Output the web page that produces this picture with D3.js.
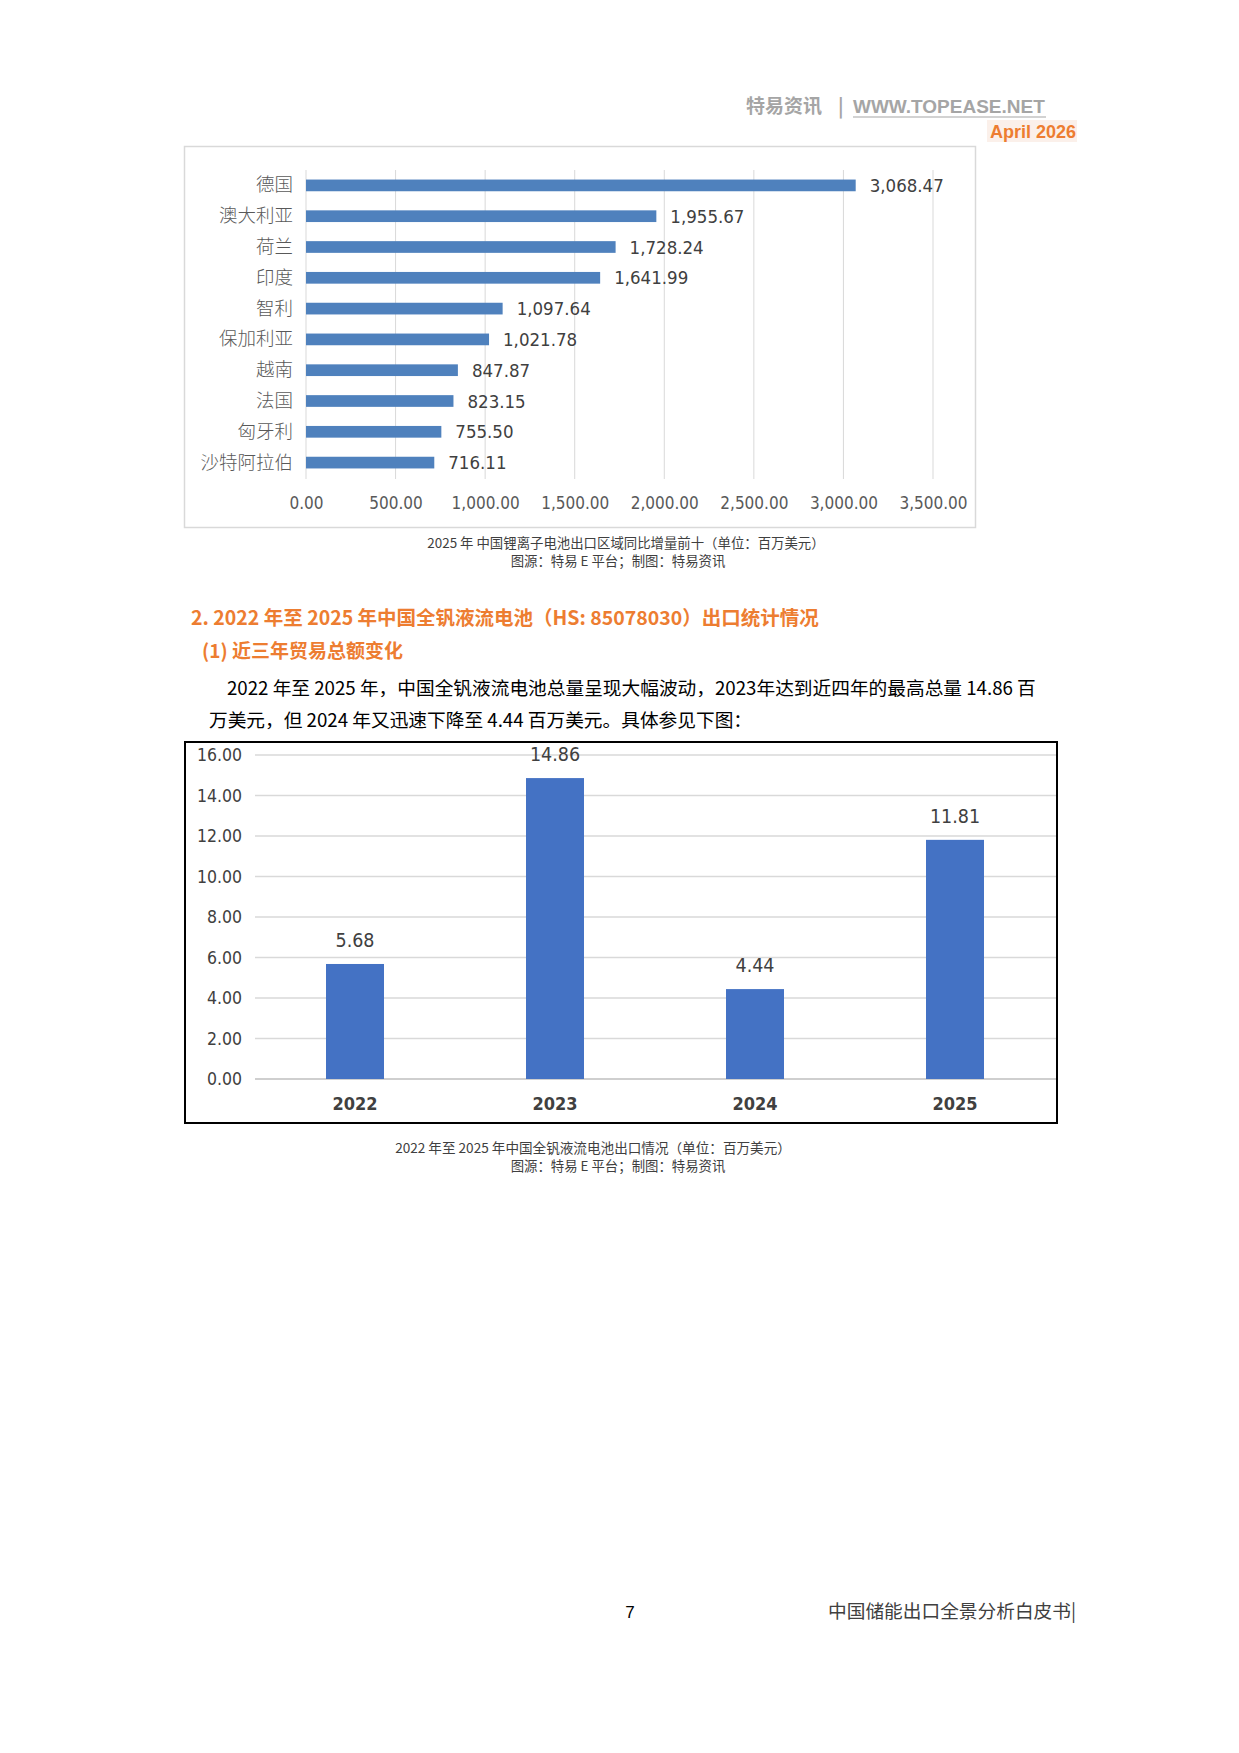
<!DOCTYPE html>
<html>
<head>
<meta charset="utf-8">
<script src="https://cdn.jsdelivr.net/npm/d3@7"></script>
<style>
  body { margin: 0; background: #fff; }
  svg { display: block; }
  .cjk { font-family: "Noto Sans CJK SC", "Noto Sans", sans-serif; }
  .num { font-family: "Liberation Sans Narrow", "DejaVu Sans Condensed", "Arial Narrow", sans-serif; }
</style>
</head>
<body>
<svg id="page"></svg>
<script>
'use strict';

// chart 1: top ten year-on-year increments, 2025 (million USD)
const countries = ["德国", "澳大利亚", "荷兰", "印度", "智利", "保加利亚", "越南", "法国", "匈牙利", "沙特阿拉伯"];
const increments = [3068.47, 1955.67, 1728.24, 1641.99, 1097.64, 1021.78, 847.87, 823.15, 755.50, 716.11];
const incTicks = [0, 500, 1000, 1500, 2000, 2500, 3000, 3500];

// chart 2: vanadium flow battery exports (million USD)
const years = ["2022", "2023", "2024", "2025"];
const totals = [5.68, 14.86, 4.44, 11.81];
const totalTicks = [0, 2, 4, 6, 8, 10, 12, 14, 16];

const W = 1239, H = 1753;
const ORANGE = "#ED7D31";
const fmt2 = d3.format(",.2f");

var svg = d3.select("#page").attr("width", W).attr("height", H);

// ---- page header ----
svg.append("text").attr("class", "cjk")
    .attr("x", 746).attr("y", 113)
    .attr("font-size", 19).attr("font-weight", "bold").attr("fill", "#A5A5A5")
    .text("特易资讯");
svg.append("text").attr("class", "cjk")
    .attr("x", 838).attr("y", 113)
    .attr("font-size", 19).attr("font-weight", "bold").attr("fill", "#A5A5A5")
    .text("|");
svg.append("text")
    .attr("x", 853).attr("y", 113)
    .attr("font-family", "Liberation Sans, Arial, sans-serif")
    .attr("font-size", 19).attr("font-weight", "bold").attr("fill", "#A5A5A5")
    .text("WWW.TOPEASE.NET");
svg.append("line")
    .attr("x1", 853).attr("x2", 1046).attr("y1", 117).attr("y2", 117)
    .attr("stroke", "#A5A5A5").attr("stroke-width", 1.2);
svg.append("rect")
    .attr("x", 987).attr("y", 120).attr("width", 90).attr("height", 22)
    .attr("fill", "#FBF0EA");
svg.append("text")
    .attr("x", 1076).attr("y", 138).attr("text-anchor", "end")
    .attr("font-family", "Liberation Sans, Arial, sans-serif")
    .attr("font-size", 18).attr("font-weight", "bold").attr("fill", ORANGE)
    .text("April 2026");

// ---- chart 1: horizontal bars ----
svg.append("rect")
    .attr("x", 184.5).attr("y", 146.5).attr("width", 791).attr("height", 381)
    .attr("fill", "#fff").attr("stroke", "#D9D9D9").attr("stroke-width", 1.5);

var x1 = d3.scaleLinear().domain([0, 3500]).range([306, 933]);
var y1 = d3.scaleBand().domain(countries).range([170, 478])
    .paddingInner(0.62).paddingOuter(0.31);

var g1 = svg.append("g");

g1.selectAll(".grid1")
    .data(incTicks)
    .enter()
    .append("line")
    .attr("class", "grid1")
    .attr("x1", function (d) { return x1(d); })
    .attr("x2", function (d) { return x1(d); })
    .attr("y1", 170).attr("y2", 479)
    .attr("stroke", "#D9D9D9").attr("stroke-width", 1);

var xAxis1 = g1.append("g")
    .attr("transform", "translate(0,479)")
    .call(d3.axisBottom(x1).tickValues(incTicks).tickSize(0).tickFormat(fmt2).tickPadding(18));
xAxis1.select(".domain").remove();
xAxis1.selectAll("text")
    .attr("class", "num")
    .attr("font-size", 17).attr("fill", "#595959");

g1.selectAll(".bar1")
    .data(increments)
    .enter()
    .append("rect")
    .attr("class", "bar1")
    .attr("x", x1(0))
    .attr("y", function (d, i) { return y1(countries[i]); })
    .attr("width", function (d) { return x1(d) - x1(0); })
    .attr("height", y1.bandwidth())
    .attr("fill", "#4F81BD");

g1.selectAll(".val1")
    .data(increments)
    .enter()
    .append("text")
    .attr("class", "num")
    .attr("x", function (d) { return x1(d) + 14; })
    .attr("y", function (d, i) { return y1(countries[i]) + y1.bandwidth() / 2; })
    .attr("dy", "0.36em")
    .attr("font-size", 18.5).attr("fill", "#404040")
    .text(function (d) { return fmt2(d); });

var yAxis1 = g1.append("g")
    .attr("transform", "translate(" + x1(0) + ",0)")
    .call(d3.axisLeft(y1).tickSize(0).tickPadding(13));
yAxis1.select(".domain").remove();
yAxis1.selectAll("text")
    .attr("class", "cjk")
    .attr("font-size", 18.5).attr("font-weight", 300).attr("fill", "#595959");

// captions for chart 1
svg.append("text").attr("class", "cjk")
    .attr("x", 626).attr("y", 548).attr("text-anchor", "middle")
    .attr("font-size", 13.4).attr("fill", "#404040")
    .text("2025  年 中国锂离子电池出口区域同比增量前十（单位：百万美元）");
svg.append("text").attr("class", "cjk")
    .attr("x", 618).attr("y", 566).attr("text-anchor", "middle")
    .attr("font-size", 13.4).attr("fill", "#404040")
    .text("图源：特易  E  平台；制图：特易资讯");

// ---- section headings and paragraph ----
svg.append("text").attr("class", "cjk")
    .attr("x", 191).attr("y", 625)
    .attr("font-size", 19.5).attr("font-weight", "bold").attr("fill", ORANGE)
    .text("2. 2022 年至 2025 年中国全钒液流电池（HS: 85078030）出口统计情况");
svg.append("text").attr("class", "cjk")
    .attr("x", 202).attr("y", 658)
    .attr("font-size", 19).attr("font-weight", "bold").attr("fill", ORANGE)
    .text("(1) 近三年贸易总额变化");
svg.append("text").attr("class", "cjk")
    .attr("x", 227).attr("y", 695)
    .attr("font-size", 18.7).attr("fill", "#000")
    .text("2022 年至 2025 年，中国全钒液流电池总量呈现大幅波动，2023年达到近四年的最高总量 14.86 百");
svg.append("text").attr("class", "cjk")
    .attr("x", 209).attr("y", 727)
    .attr("font-size", 18.7).attr("fill", "#000")
    .text("万美元，但 2024 年又迅速下降至 4.44 百万美元。具体参见下图：");

// ---- chart 2: vertical bars ----
svg.append("rect")
    .attr("x", 185).attr("y", 742).attr("width", 872).attr("height", 381)
    .attr("fill", "#fff").attr("stroke", "#000").attr("stroke-width", 2);

var x2 = d3.scaleBand().domain(years).range([255, 1055]).paddingInner(0.71).paddingOuter(0.355);
var y2 = d3.scaleLinear().domain([0, 16]).range([1079, 755]);

var g2 = svg.append("g");

g2.selectAll(".grid2")
    .data(totalTicks)
    .enter()
    .append("line")
    .attr("class", "grid2")
    .attr("x1", 255).attr("x2", 1056)
    .attr("y1", function (d) { return y2(d); })
    .attr("y2", function (d) { return y2(d); })
    .attr("stroke", function (d) { return d === 0 ? "#BFBFBF" : "#D9D9D9"; })
    .attr("stroke-width", 1.3);

var yAxis2 = g2.append("g")
    .attr("transform", "translate(255,0)")
    .call(d3.axisLeft(y2).tickValues(totalTicks).tickSize(0).tickPadding(13).tickFormat(d3.format(".2f")));
yAxis2.select(".domain").remove();
yAxis2.selectAll("text")
    .attr("class", "num")
    .attr("font-size", 17.5).attr("fill", "#404040");

g2.selectAll(".bar2")
    .data(totals)
    .enter()
    .append("rect")
    .attr("class", "bar2")
    .attr("x", function (d, i) { return x2(years[i]); })
    .attr("y", function (d) { return y2(d); })
    .attr("width", x2.bandwidth())
    .attr("height", function (d) { return y2(0) - y2(d); })
    .attr("fill", "#4472C4");

g2.selectAll(".val2")
    .data(totals)
    .enter()
    .append("text")
    .attr("class", "num")
    .attr("x", function (d, i) { return x2(years[i]) + x2.bandwidth() / 2; })
    .attr("y", function (d) { return y2(d) - 17; })
    .attr("text-anchor", "middle")
    .attr("font-size", 19.5).attr("fill", "#404040")
    .text(function (d) { return d3.format(".2f")(d); });

var xAxis2 = g2.append("g")
    .attr("transform", "translate(0,1079)")
    .call(d3.axisBottom(x2).tickSize(0).tickPadding(18));
xAxis2.select(".domain").remove();
xAxis2.selectAll("text")
    .attr("class", "num")
    .attr("font-size", 18).attr("font-weight", "bold").attr("fill", "#404040");

// captions for chart 2
svg.append("text").attr("class", "cjk")
    .attr("x", 593).attr("y", 1153).attr("text-anchor", "middle")
    .attr("font-size", 13.6).attr("fill", "#404040")
    .text("2022  年至  2025  年中国全钒液流电池出口情况（单位：百万美元）");
svg.append("text").attr("class", "cjk")
    .attr("x", 618).attr("y", 1171).attr("text-anchor", "middle")
    .attr("font-size", 13.4).attr("fill", "#404040")
    .text("图源：特易  E  平台；制图：特易资讯");

// ---- footer ----
svg.append("text")
    .attr("x", 630).attr("y", 1618).attr("text-anchor", "middle")
    .attr("font-family", "Liberation Sans, Arial, sans-serif")
    .attr("font-size", 17).attr("fill", "#000")
    .text("7");
svg.append("text").attr("class", "cjk")
    .attr("x", 1076).attr("y", 1618).attr("text-anchor", "end")
    .attr("font-size", 18.7).attr("fill", "#404040")
    .text("中国储能出口全景分析白皮书|");
</script>
</body>
</html>
